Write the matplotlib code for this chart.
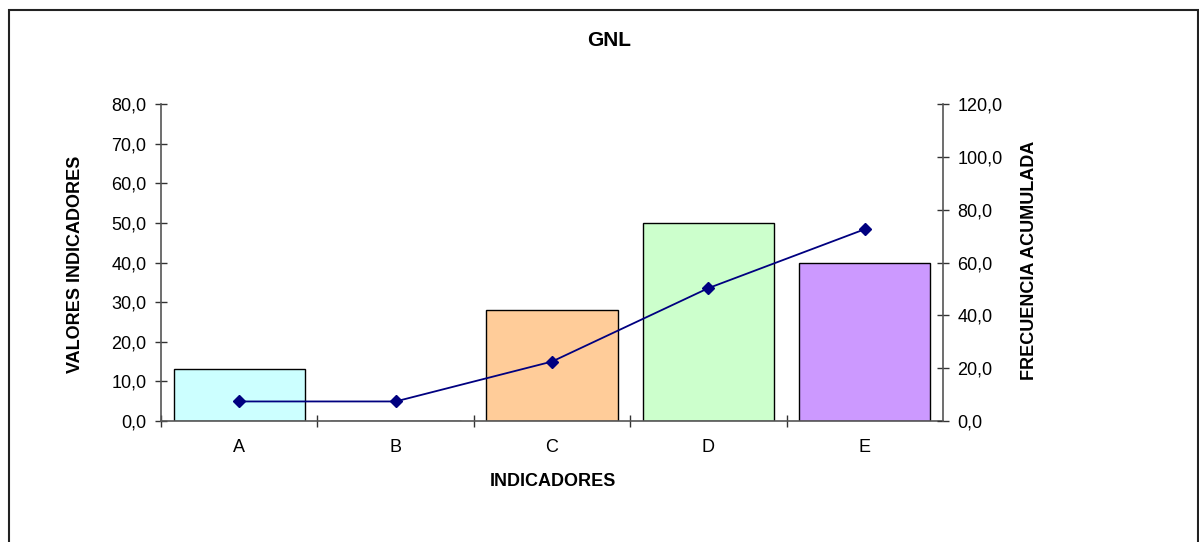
import matplotlib.pyplot as plt
from matplotlib.patches import Rectangle
from matplotlib.ticker import FuncFormatter, MultipleLocator

plt.rcParams['font.family'] = ['Liberation Sans', 'DejaVu Sans']

# --- data ---
categorias = ['A', 'B', 'C', 'D', 'E']
valores = [13.0, 0.0, 28.0, 50.0, 40.0]
frec_acum = [7.4, 7.4, 22.5, 50.3, 72.6]
colores = ['#CCFFFF', '#FFFFFF', '#FFCC99', '#CCFFCC', '#CC99FF']

W, H = 1199, 542
fig = plt.figure(figsize=(W / 100, H / 100), dpi=100)

# outer frame of the chart area
fig.patches.append(Rectangle((9 / W, -0.05), 1189 / W, 1.05 - 10 / H,
                             transform=fig.transFigure, fill=False,
                             edgecolor='#222222', linewidth=1.5))

ax = fig.add_axes([161 / W, 1 - 421 / H, 782 / W, 317 / H])
x = list(range(len(categorias)))
ax.bar(x, valores, width=0.84, color=colores, edgecolor='black', linewidth=1.0, zorder=2)
ax.set_xlim(-0.5, len(categorias) - 0.5)
ax.set_ylim(0, 80)
ax.yaxis.set_major_locator(MultipleLocator(10))

fmt = FuncFormatter(lambda v, p: f'{v:.1f}'.replace('.', ','))
ax.yaxis.set_major_formatter(fmt)

# category labels centred, ticks at boundaries
ax.set_xticks(x)
ax.set_xticklabels(categorias)
ax.tick_params(axis='x', which='major', length=0, pad=13, labelsize=13)
ax.set_xticks([i + 0.5 for i in x[:-1]] + [-0.5], minor=True)
ax.tick_params(axis='x', which='minor', direction='inout', length=9, width=1, color='#333333')
ax.tick_params(axis='y', direction='inout', length=9, width=1, color='#333333', labelsize=13, pad=6)

for s in ['top', 'right']:
    ax.spines[s].set_visible(False)
for s in ['left', 'bottom']:
    ax.spines[s].set_color('#555555')
    ax.spines[s].set_linewidth(1.2)

ax2 = ax.twinx()
ax2.plot(x, frec_acum, color='#000080', marker='D', markersize=6, linewidth=1.3, zorder=3)
ax2.set_ylim(0, 120)
ax2.yaxis.set_major_locator(MultipleLocator(20))
ax2.yaxis.set_major_formatter(fmt)
ax2.tick_params(axis='y', direction='inout', length=9, width=1, color='#333333', labelsize=13, pad=6)
for s in ['top', 'left', 'bottom']:
    ax2.spines[s].set_visible(False)
ax2.spines['right'].set_color('#555555')
ax2.spines['right'].set_linewidth(1.2)

# titles and axis labels
fig.text(609 / W, 1 - 41 / H, 'GNL', fontsize=15, fontweight='bold', ha='center', va='center')
fig.text(553 / W, 1 - 481 / H, 'INDICADORES', fontsize=13, fontweight='bold', ha='center', va='center')
fig.text(76 / W, 1 - 264 / H, 'VALORES INDICADORES', fontsize=13, fontweight='bold',
         ha='center', va='center', rotation=90)
fig.text(1030 / W, 1 - 260 / H, 'FRECUENCIA ACUMULADA', fontsize=13, fontweight='bold',
         ha='center', va='center', rotation=90)

fig.savefig('out.png', dpi=100)
